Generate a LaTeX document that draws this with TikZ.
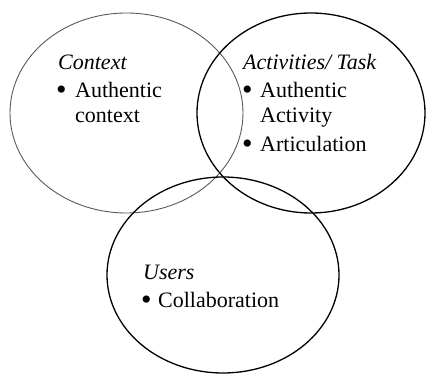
\documentclass[tikz,border=0pt]{standalone}
\usepackage{fontspec}
\setmainfont{Liberation Serif}
\usetikzlibrary{shapes.geometric}
\newcommand{\bigbul}{{\fontsize{30}{30}\selectfont\textbullet}}
\begin{document}
\begin{tikzpicture}[x=1pt,y=1pt,
  circ/.style={ellipse, draw=black, line width=1.3pt, inner sep=0pt},
  circgray/.style={ellipse, draw=black!65, line width=0.9pt, inner sep=0pt},
  txt/.style={anchor=base west, inner sep=0pt, font=\fontsize{22}{26}\selectfont},
  bul/.style={anchor=base west, inner sep=0pt},
  head/.style={txt, font=\fontsize{22}{26}\selectfont\itshape}]
\useasboundingbox (0,0) rectangle (428,374);
\node[circgray, minimum width=233, minimum height=200] (ctx) at (126.5,261) {};
\node[circ, minimum width=228, minimum height=200] (act) at (311,261) {};
\node[circ, minimum width=232, minimum height=196] (usr) at (223,99) {};
% Context
\node[head] (ctxh) at (58,304) {Context};
\node[bul] (ctxb) at (56,274) {\bigbul};
\node[txt] (ctx1) at (75,276) {Authentic};
\node[txt] (ctx2) at (75,251) {context};
% Activities
\node[head] (acth) at (243,304) {Activities/ Task};
\node[bul] (actb1) at (242,274) {\bigbul};
\node[txt] (act1) at (260,276) {Authentic};
\node[txt] (act2) at (260,251) {Activity};
\node[bul] (actb2) at (242,220) {\bigbul};
\node[txt] (act3) at (260,222) {Articulation};
% Users
\node[head] (usrh) at (143,94) {Users};
\node[bul] (usrb) at (141,64) {\bigbul};
\node[txt] (usr1) at (158,66) {Collaboration};
\end{tikzpicture}
\end{document}
